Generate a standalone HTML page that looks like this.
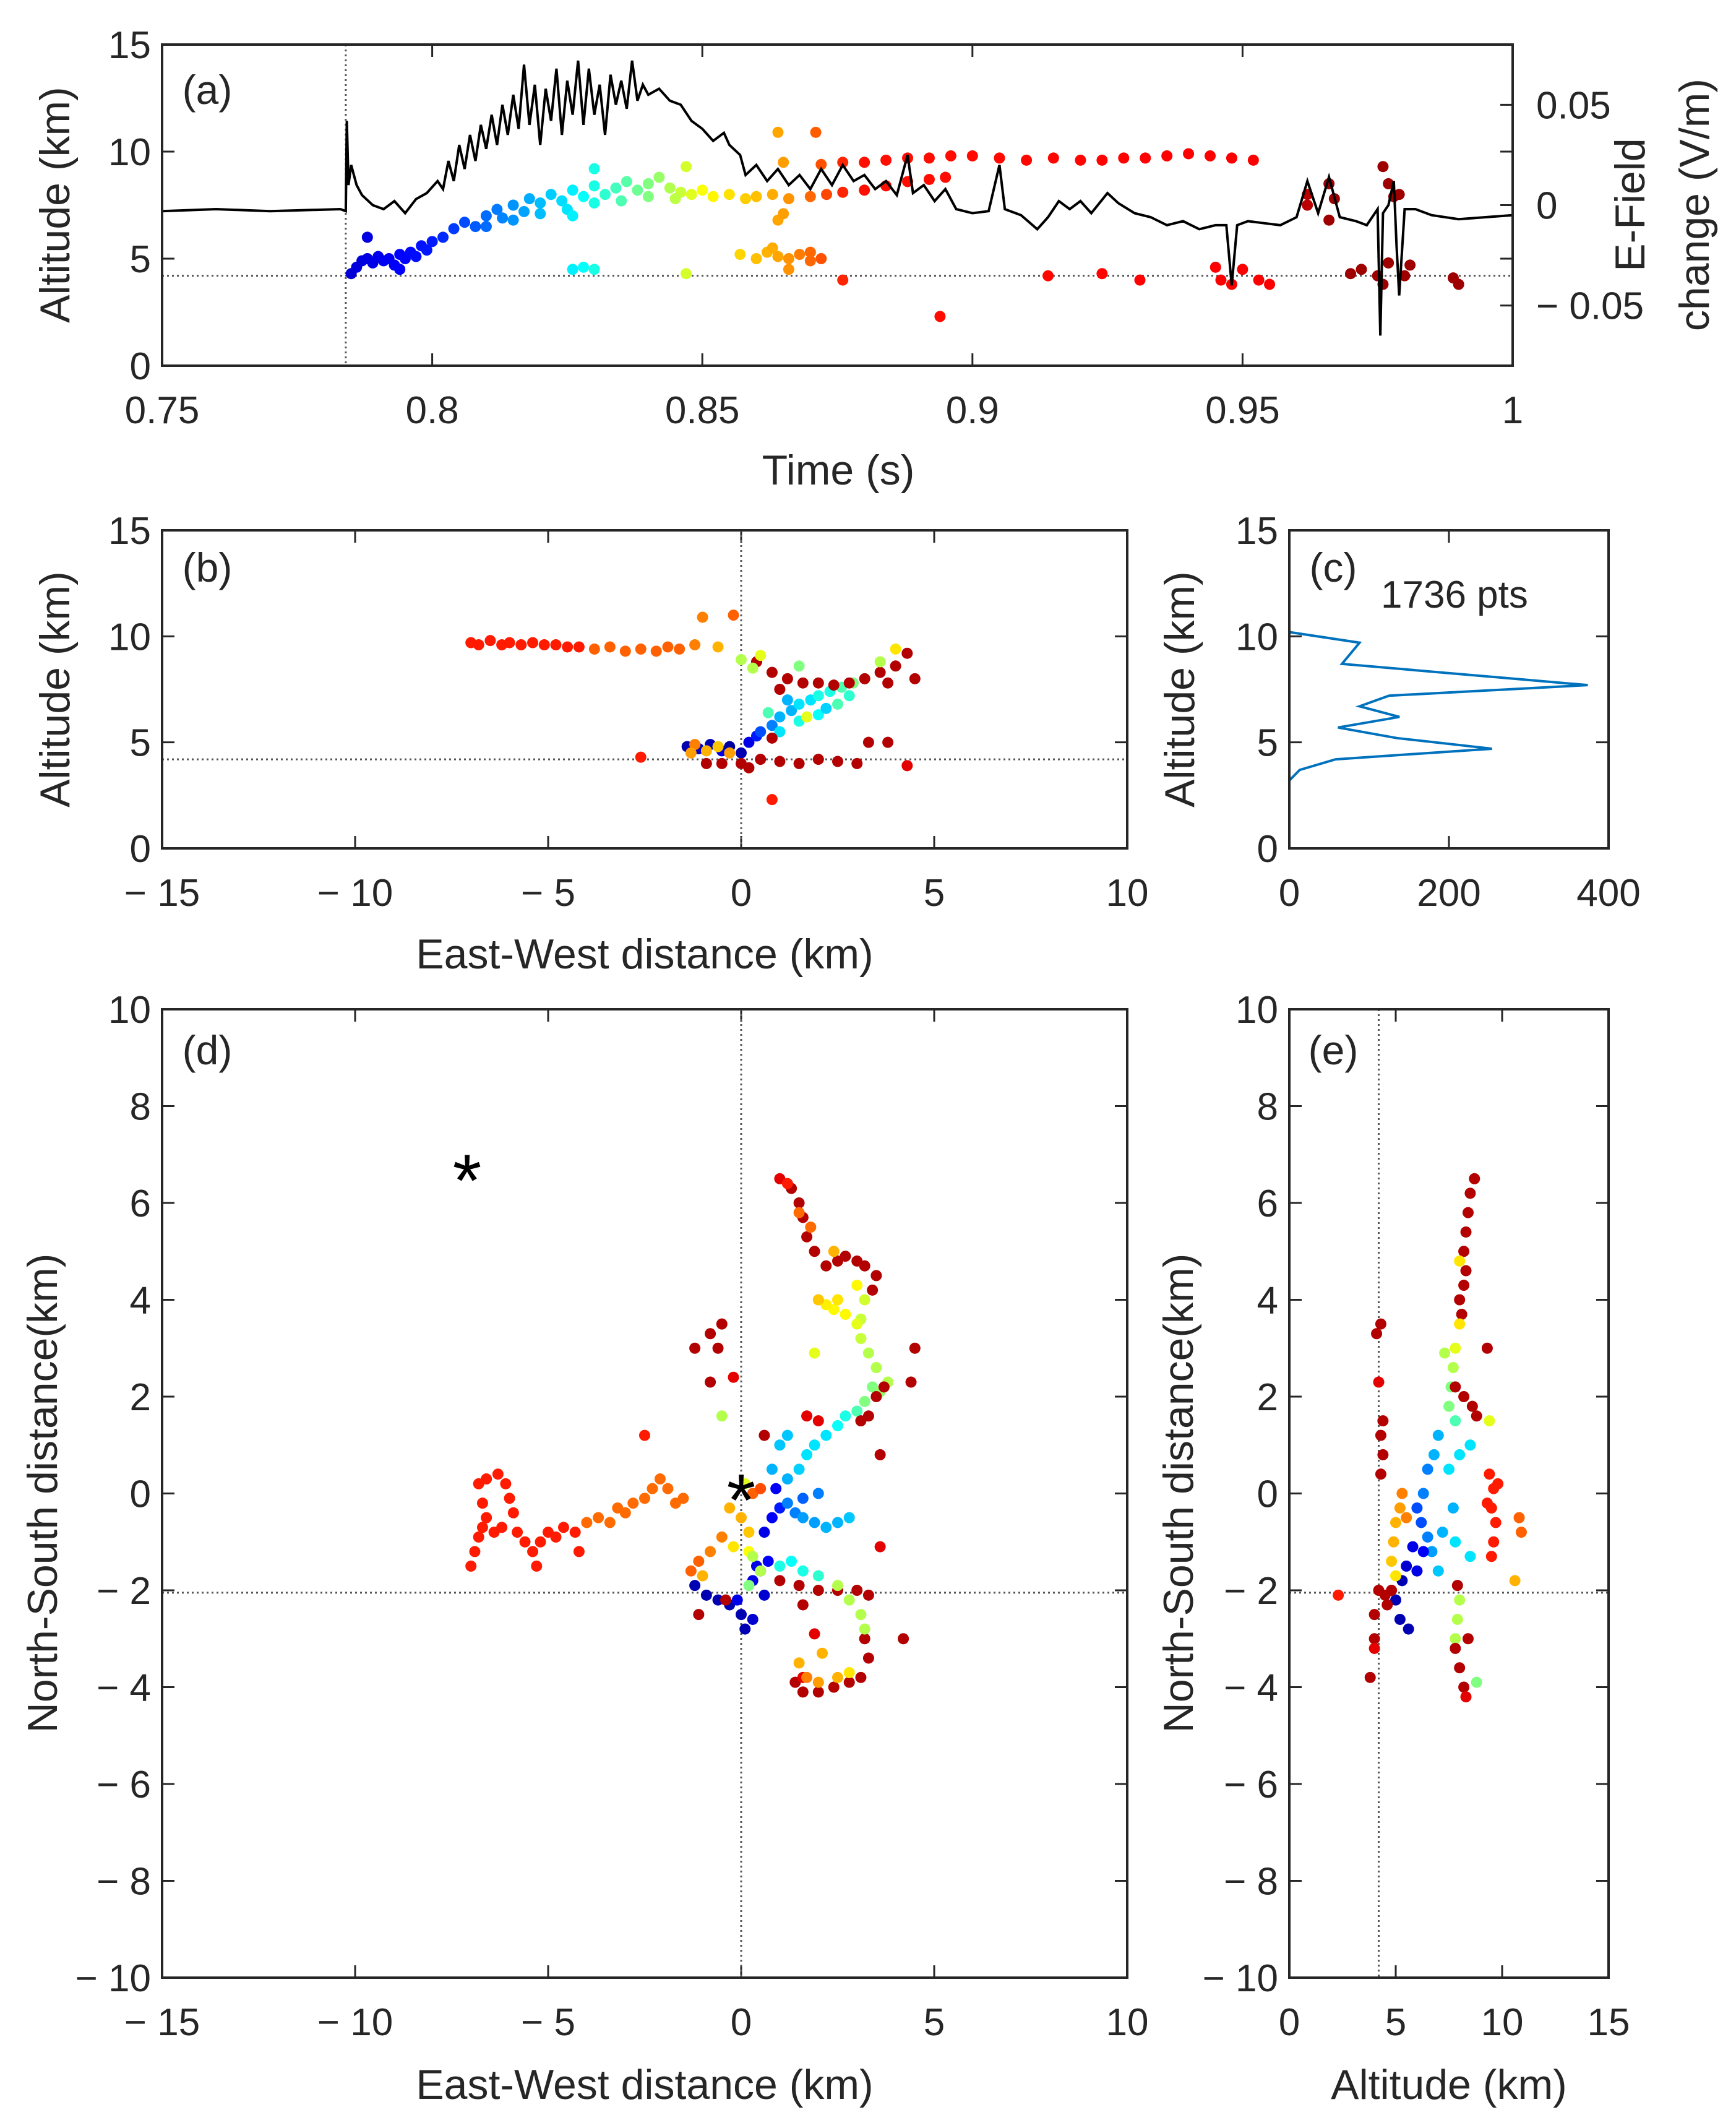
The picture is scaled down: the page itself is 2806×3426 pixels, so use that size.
<!DOCTYPE html>
<html><head><meta charset="utf-8"><style>
html,body{margin:0;padding:0;background:#fff}
svg{display:block}
text{font-family:"Liberation Sans",sans-serif;fill:#262626}
</style></head><body>
<svg id="fig" width="2806" height="3426" viewBox="0 0 2806 3426" xmlns="http://www.w3.org/2000/svg"></svg>
<script>
// ---------- DATA ----------
const efieldTimes=[0.75,0.76,0.77,0.783,0.784,0.7842,0.7845,0.785,0.786,0.787,0.789,0.791,0.793,0.795,0.797,0.799,0.801,0.802,0.803,0.804,0.805,0.806,0.807,0.808,0.809,0.81,0.811,0.812,0.813,0.814,0.815,0.816,0.817,0.818,0.819,0.82,0.821,0.822,0.823,0.824,0.825,0.826,0.827,0.828,0.829,0.83,0.831,0.832,0.833,0.834,0.835,0.836,0.837,0.838,0.839,0.84,0.842,0.844,0.846,0.848,0.85,0.852,0.854,0.855,0.857,0.858,0.86,0.862,0.864,0.866,0.868,0.87,0.872,0.874,0.876,0.878,0.88,0.882,0.884,0.886,0.888,0.889,0.891,0.893,0.895,0.897,0.9,0.903,0.905,0.906,0.909,0.912,0.914,0.916,0.918,0.92,0.922,0.925,0.927,0.93,0.933,0.936,0.939,0.942,0.945,0.947,0.948,0.949,0.951,0.954,0.957,0.96,0.962,0.964,0.966,0.968,0.971,0.973,0.975,0.9755,0.976,0.977,0.978,0.9785,0.979,0.98,0.982,0.985,0.99,0.995,1.0];
const efieldValues=[-0.003,-0.002,-0.003,-0.002,-0.003,0.042,0.01,0.02,0.01,0.005,0.0,-0.002,0.002,-0.004,0.003,0.006,0.012,0.008,0.022,0.012,0.03,0.018,0.035,0.022,0.04,0.028,0.045,0.03,0.05,0.035,0.055,0.038,0.07,0.04,0.06,0.03,0.058,0.042,0.068,0.035,0.062,0.045,0.072,0.04,0.068,0.045,0.06,0.035,0.065,0.05,0.062,0.048,0.072,0.052,0.06,0.055,0.058,0.052,0.05,0.042,0.038,0.032,0.036,0.03,0.025,0.015,0.02,0.012,0.018,0.01,0.015,0.008,0.018,0.01,0.02,0.012,0.015,0.008,0.012,0.005,0.025,0.006,0.01,0.002,0.008,-0.002,-0.004,-0.003,0.02,-0.002,-0.005,-0.012,-0.006,0.002,-0.002,0.002,-0.004,0.006,0.001,-0.004,-0.006,-0.01,-0.008,-0.012,-0.01,-0.01,-0.04,-0.01,-0.008,-0.009,-0.01,-0.006,0.012,-0.004,0.014,-0.006,-0.008,-0.01,-0.002,-0.065,-0.004,0.0,0.012,-0.02,-0.045,-0.002,-0.002,-0.005,-0.007,-0.006,-0.005];
const srcTime=[0.785,0.786,0.787,0.788,0.789,0.790,0.791,0.792,0.793,0.794,0.795,0.796,0.797,0.798,0.799,0.788,0.794,0.800,0.802,0.804,0.806,0.808,0.81,0.812,0.813,0.815,0.817,0.818,0.82,0.822,0.824,0.826,0.828,0.83,0.832,0.834,0.836,0.838,0.84,0.842,0.844,0.846,0.848,0.85,0.852,0.855,0.858,0.86,0.863,0.866,0.87,0.873,0.876,0.88,0.884,0.888,0.892,0.895,0.81,0.815,0.82,0.825,0.83,0.835,0.84,0.845,0.83,0.847,0.826,0.826,0.828,0.830,0.847,0.857,0.86,0.862,0.864,0.866,0.868,0.87,0.872,0.866,0.863,0.870,0.864,0.865,0.876,0.864,0.871,0.865,0.872,0.876,0.88,0.884,0.888,0.892,0.896,0.9,0.905,0.91,0.915,0.92,0.924,0.928,0.932,0.936,0.94,0.944,0.948,0.952,0.894,0.914,0.924,0.931,0.945,0.946,0.948,0.95,0.953,0.955,0.962,0.962,0.966,0.967,0.966,0.976,0.977,0.978,0.979,0.97,0.972,0.975,0.976,0.977,0.98,0.981,0.989,0.99];
const srcAlt=[4.3,4.6,4.9,5.0,4.8,5.1,4.9,5.0,4.7,5.2,5.0,5.3,5.1,5.6,5.4,6.0,4.5,5.8,6.0,6.4,6.7,6.5,7.0,7.3,6.9,7.5,7.2,7.8,7.6,8.0,7.7,8.2,7.9,8.4,8.0,8.3,8.6,8.2,8.5,8.8,8.3,8.1,8.0,8.2,7.9,8.0,7.8,7.9,8.0,7.8,7.9,8.0,8.1,8.2,8.4,8.6,8.7,8.8,6.5,6.8,7.1,7.3,7.6,7.7,7.9,7.8,9.2,9.3,7.0,4.5,4.6,4.5,4.3,5.2,5.0,5.3,5.1,5.0,5.2,4.9,5.0,4.5,5.5,5.3,6.8,7.1,4.0,10.9,10.9,9.5,9.4,9.5,9.5,9.6,9.7,9.7,9.8,9.8,9.7,9.6,9.7,9.6,9.6,9.7,9.7,9.8,9.9,9.8,9.7,9.6,2.3,4.2,4.3,4.0,4.6,4.0,3.8,4.5,4.0,3.8,8.0,7.5,8.5,7.8,6.8,9.3,8.5,7.9,8.0,4.3,4.5,4.2,3.8,4.8,4.2,4.7,4.1,3.8];
// time -> colormap breakpoints
const colorTimes=[0.784,0.80,0.825,0.84,0.85,0.865,0.878,0.955,0.965];
const colorLevels=[0.08,0.15,0.35,0.5,0.62,0.72,0.86,0.88,0.97];
const bEW=[-7,-6.8,-6.5,-6.2,-6,-5.7,-5.4,-5.1,-4.8,-4.5,-4.2,-3.8,-3.4,-3,-2.6,-2.2,-1.9,-1.6,-1,-0.2,-1.2,-0.6,-1.4,-1.1,-0.8,-0.5,-0.3,0,0.2,0.4,-1.2,-0.9,-0.6,-0.3,-1.3,0.5,0.8,1.0,1.3,1.5,1.8,2.0,2.3,2.6,2.9,3.2,1.0,1.5,2.0,2.5,1.2,2.2,2.8,0.7,1.7,0.4,0.8,1.2,1.6,2.0,2.4,2.8,3.2,3.6,4.0,4.3,4.5,1.0,3.8,0,0.5,0.3,4.0,3.6,1.5,0,0.5,1.0,1.5,2.0,2.5,3.0,0.2,-0.5,3.3,3.8,0.8,4.3,-2.6,0.8,-0.9];
const bAlt=[9.7,9.6,9.8,9.6,9.7,9.6,9.7,9.6,9.6,9.5,9.5,9.4,9.5,9.3,9.4,9.3,9.5,9.4,10.9,11,9.6,9.5,4.8,4.7,4.9,4.6,4.8,4.5,5.0,5.3,4.9,4.6,4.8,4.5,4.5,5.5,5.8,6.2,6.5,6.8,7.0,7.2,7.4,7.6,7.8,8.0,5.5,6.0,6.3,6.8,7.0,6.6,7.2,6.4,6.2,8.8,8.3,8.0,7.8,7.8,7.7,7.8,8.0,8.3,8.6,9.2,8.0,7.5,7.8,8.9,9.1,8.5,9.4,8.8,8.6,4.0,4.2,4.1,4.0,4.2,4.1,4.0,3.8,4.0,5.0,5.0,5.2,3.9,4.3,2.3,4.0];
const bC=[0.85,0.85,0.85,0.85,0.85,0.85,0.85,0.85,0.85,0.85,0.85,0.78,0.78,0.78,0.78,0.78,0.78,0.78,0.75,0.78,0.75,0.7,0.05,0.07,0.05,0.1,0.03,0.05,0.1,0.15,0.75,0.7,0.68,0.72,0.72,0.2,0.25,0.3,0.3,0.35,0.35,0.4,0.4,0.45,0.5,0.5,0.35,0.4,0.38,0.45,0.3,0.33,0.42,0.45,0.6,0.95,0.95,0.95,0.95,0.95,0.95,0.95,0.95,0.95,0.95,0.95,0.95,0.95,0.95,0.55,0.6,0.55,0.65,0.55,0.5,0.95,0.95,0.95,0.95,0.95,0.95,0.95,0.95,0.95,0.95,0.95,0.95,0.9,0.85,0.85,0.95];
const histCount=[0,0,13,58,254,135,61,138,88,125,374,66,88,0,0];
const histAlt=[2.2,3.2,3.7,4.2,4.7,5.2,5.7,6.2,6.7,7.2,7.7,8.7,9.7,10.2,10.7];
const dEW=[-7,-6.9,-6.8,-6.7,-6.6,-6.7,-6.8,-6.6,-6.3,-6.1,-6,-5.9,-6.2,-6.4,-5.8,-5.6,-5.4,-5.3,-5.2,-5.0,-4.8,-4.6,-4.3,-4.2,-4,-3.7,-3.4,-3.2,-3,-2.8,-2.5,-2.3,-2.1,-1.9,-1.7,-1.5,-2.5,-0.3,0,0.2,-0.5,-0.8,-1.1,-1.3,-1.0,0.3,0.5,0.1,-0.2,0.2,-1.2,-0.9,-0.6,-0.3,0,0.1,0.3,-0.1,0.3,0.5,0.7,0.6,0.6,0.8,1.0,0.9,0.4,1.2,1.4,1.6,1.9,2.2,2.5,2.8,1.2,1.5,1.7,1.9,2.2,1.0,1.2,0.8,2.5,2.7,1.6,2.0,3.0,3.2,3.4,3.6,3.8,3.5,3.3,3.1,3.1,3.2,3.0,2.7,2.4,2.2,2.0,3.1,3.3,3.5,3.7,3.4,3.5,3.2,3.0,2.7,2.5,2.2,1.9,1.7,1.6,1.5,1.3,1.0,1.2,4.5,4.4,2,1.5,1.0,2.5,3.0,3.3,3.2,3.3,3.1,2.8,2.4,2.0,1.6,1.4,1.6,-1.2,-0.8,-0.5,-0.6,-0.8,-0.2,1.7,0.6,2.0,3.6,3.6,-1.1,-0.4,1.9,4.2,1.6,-0.5,1.7,2.0,2.5,2.8,1.5,2.1,2.4,1.8,1.5,2.0,2.5,3.0,1.9,2.5,2.8,3.1,3.2,0.3,0.5,0.2,1.0,1.3,1.6,2.0];
const dNS=[-1.5,-1.2,-0.9,-0.7,-0.5,-0.2,0.2,0.3,0.4,0.2,-0.1,-0.4,-0.7,-0.8,-0.8,-1.0,-1.2,-1.5,-1.0,-0.8,-0.9,-0.7,-0.8,-1.2,-0.6,-0.5,-0.6,-0.3,-0.4,-0.2,-0.1,0.1,0.3,0.1,-0.2,-0.1,1.2,-0.3,-0.5,-0.8,-0.9,-1.2,-1.4,-1.6,-1.7,0,0.1,0.2,-1.1,-1.2,-1.9,-2.1,-2.2,-2.3,-2.5,-2.8,-2.6,-2.2,-1.8,-1.6,-1.4,-2.1,-0.8,-0.5,-0.3,0.1,-1.5,-0.2,-0.4,-0.5,-0.6,-0.7,-0.6,-0.5,0.3,0.5,0.8,1.0,1.2,1.0,1.2,0.5,1.4,1.6,-0.1,0,1.7,1.9,2.2,2.1,2.3,2.6,2.9,3.2,3.6,4.0,3.5,3.7,3.8,3.9,4.0,1.5,1.6,2.0,2.2,4.2,4.5,4.7,4.8,4.9,4.8,4.7,5.0,5.3,5.7,6.0,6.3,6.5,6.4,3.0,2.3,-2,-1.9,-1.8,-2.0,-2.0,-2.1,-3.0,-3.4,-3.8,-3.9,-4.0,-4.1,-4.1,-3.9,-3.8,3.0,3.3,3.5,3.0,2.3,2.4,1.6,1.2,1.5,0.8,-1.1,-2.5,-2.2,-2.9,-3.0,-2.3,1.6,-3.8,-3.9,-3.8,-3.7,-3.5,-3.3,5.0,5.5,5.8,4.0,4.0,4.3,2.9,-1.9,-2.2,-2.5,-2.8,-1.3,-1.6,-1.9,-1.5,-1.4,-1.6,-1.7];
const dC=[0.85,0.85,0.85,0.85,0.85,0.85,0.85,0.85,0.85,0.85,0.85,0.85,0.85,0.85,0.85,0.85,0.85,0.85,0.85,0.85,0.85,0.85,0.85,0.85,0.77,0.77,0.77,0.77,0.77,0.77,0.77,0.77,0.77,0.77,0.77,0.77,0.85,0.7,0.7,0.68,0.75,0.75,0.78,0.78,0.7,0.78,0.8,0.6,0.65,0.62,0.05,0.05,0.05,0.05,0.05,0.05,0.08,0.1,0.1,0.1,0.12,0.08,0.1,0.12,0.15,0.12,0.1,0.25,0.25,0.28,0.28,0.3,0.3,0.32,0.3,0.33,0.35,0.35,0.35,0.32,0.32,0.3,0.38,0.4,0.22,0.25,0.45,0.5,0.5,0.52,0.55,0.55,0.55,0.57,0.57,0.58,0.6,0.63,0.63,0.64,0.65,0.95,0.95,0.95,0.95,0.95,0.95,0.95,0.95,0.95,0.95,0.95,0.95,0.95,0.95,0.95,0.95,0.9,0.85,0.95,0.95,0.95,0.95,0.95,0.95,0.95,0.95,0.95,0.95,0.95,0.95,0.95,0.95,0.95,0.95,0.9,0.95,0.95,0.95,0.95,0.95,0.9,0.9,0.95,0.9,0.95,0.9,0.95,0.95,0.9,0.95,0.95,0.55,0.75,0.72,0.7,0.65,0.7,0.7,0.7,0.77,0.77,0.68,0.65,0.63,0.6,0.55,0.55,0.55,0.55,0.55,0.55,0.5,0.4,0.38,0.4,0.42];
const eAlt=[8.7,8.5,8.4,8.3,8.2,8.3,8.2,8.0,8.1,8.0,7.8,7.7,7.6,7.5,7.8,8.0,7.3,9.4,7.8,8.2,8.6,8.8,9.3,7.0,6.8,6.5,6.3,6.0,6.2,6.5,7.5,8.0,8.5,7.7,7.2,6.7,7.0,7.8,8.5,5.8,5.5,5.3,5.0,5.2,5.6,6.0,6.3,5.3,5.2,5.0,4.9,4.8,5.0,5.5,9.4,9.6,9.5,9.7,9.6,9.5,9.3,9.8,10.8,10.9,10.6,8.0,7.9,7.8,8.8,7.8,8.0,8.2,8.3,7.9,8.4,4.3,4.1,4.2,4.4,4.3,4.4,4.3,4.2,4.5,4.8,4.0,4.0,4.0,3.8,2.3,4.6];
const eNS=[6.5,6.2,5.8,5.4,5.0,4.6,4.3,4.0,3.7,3.5,3.0,2.6,2.2,1.8,1.5,4.8,2.9,1.5,2.2,2.0,1.8,1.6,3.0,1.2,0.8,0.5,0,-0.3,-0.6,-0.9,0.5,0.8,1.0,-0.3,-0.8,-1.2,-1.6,-1.0,-1.3,-1.1,-1.5,-1.8,-2.2,-2.6,-2.8,-1.6,-1.2,0,-0.3,-0.6,-1.0,-1.4,-1.7,-0.5,0.4,0.1,-0.3,-0.6,-1.0,-1.3,-0.2,0.2,-0.5,-0.8,-1.8,-2.2,-2.6,-3.0,-3.9,-3.2,-3.6,-4.0,-4.2,-1.9,-3.0,3.5,3.3,2.3,1.5,1.2,0.8,0.4,-2.0,-2.1,-2.0,-2.5,-3.0,-3.2,-3.8,-2.1,-2.3];
const eC=[0.95,0.95,0.95,0.95,0.95,0.95,0.95,0.95,0.95,0.65,0.6,0.55,0.5,0.5,0.45,0.65,0.55,0.6,0.95,0.95,0.95,0.95,0.95,0.3,0.3,0.25,0.25,0.2,0.2,0.25,0.35,0.35,0.35,0.3,0.3,0.28,0.32,0.35,0.35,0.1,0.08,0.05,0.05,0.05,0.05,0.1,0.12,0.75,0.72,0.7,0.7,0.68,0.65,0.75,0.85,0.85,0.85,0.85,0.85,0.85,0.85,0.85,0.78,0.78,0.7,0.55,0.55,0.55,0.5,0.95,0.95,0.95,0.9,0.95,0.95,0.95,0.95,0.9,0.95,0.95,0.95,0.95,0.95,0.95,0.95,0.95,0.95,0.9,0.95,0.85,0.95];
const starEW=[-7.1,0];
const starNS=[6.6,0];

// ---------- HELPERS ----------
const NS='http://www.w3.org/2000/svg';
const svg=document.getElementById('fig');
function el(tag,attrs,parent){const e=document.createElementNS(NS,tag);for(const k in attrs)e.setAttribute(k,attrs[k]);(parent||svg).appendChild(e);return e;}
function jet(v){v=Math.max(0,Math.min(1,v));const r=Math.max(0,Math.min(1,1.5-Math.abs(4*v-3))),g=Math.max(0,Math.min(1,1.5-Math.abs(4*v-2))),b=Math.max(0,Math.min(1,1.5-Math.abs(4*v-1)));return `rgb(${Math.round(r*255)},${Math.round(g*255)},${Math.round(b*255)})`;}
function timeColor(t){if(t<=colorTimes[0])return colorLevels[0];for(let i=1;i<colorTimes.length;i++){if(t<=colorTimes[i]){const f=(t-colorTimes[i-1])/(colorTimes[i]-colorTimes[i-1]);return colorLevels[i-1]+f*(colorLevels[i]-colorLevels[i-1]);}}return colorLevels[colorLevels.length-1];}
function lin(d0,d1,r0,r1){return v=>r0+(v-d0)/(d1-d0)*(r1-r0);}
function fmt(v){return v<0?'\u2212 '+Math.abs(v):String(v);}
const FS=62;
function axes(name,L,R,T,B,xd,yd,xt,yt){
  const g=el('g',{});
  
  
  const x=lin(xd[0],xd[1],L,R),y=lin(yd[0],yd[1],B,T);
  xt.forEach(v=>{const px=x(v);
    const t1=el('line',{x1:px,x2:px,y1:B,y2:B-20,stroke:'#262626','stroke-width':3},g);
    el('line',{x1:px,x2:px,y1:T,y2:T+20,stroke:'#262626','stroke-width':3},g);
    const t=el('text',{x:px,y:B+93,'font-size':FS,'text-anchor':'middle'},g);t.textContent=fmt(v);
  });
  yt.forEach(v=>{const py=y(v);
    const t1=el('line',{x1:L,x2:L+20,y1:py,y2:py,stroke:'#262626','stroke-width':3},g);
    el('line',{x1:R,x2:R-20,y1:py,y2:py,stroke:'#262626','stroke-width':3},g);
    const t=el('text',{x:L-18,y:py+22,'font-size':FS,'text-anchor':'end'},g);t.textContent=fmt(v);
  });
  return {x,y,g};
}
function box(L,R,T,B){const b=el('rect',{x:L,y:T,width:R-L,height:B-T,fill:'none',stroke:'#262626','stroke-width':4});}
function dotted(x1,y1,x2,y2){const l=el('line',{x1,y1,x2,y2,stroke:'#555','stroke-width':3,'stroke-dasharray':'3,5'});}
function label(txt,x,y,name,rot,size){const t=el('text',{x,y,'font-size':size||68,'text-anchor':'middle',transform:rot?`rotate(-90 ${x} ${y})`:''});t.textContent=txt;return t;}
function dot(px,py,c,name){const d=el('circle',{cx:px,cy:py,r:9,fill:jet(c)});}
function clip(id,L,R,T,B){const cp=el('clipPath',{id});el('rect',{x:L,y:T,width:R-L,height:B-T},cp);}

// ---------- PANEL A ----------
(function(){
 const L=262,R=2445,T=72,B=591;
 const a=axes('panel-a',L,R,T,B,[0.75,1],[0,15],[0.75,0.8,0.85,0.9,0.95,1],[0,5,10,15]);
 clip('ca',L,R,T,B);
 dotted(a.x(0.784),T,a.x(0.784),B);dotted(L,a.y(4.2),R,a.y(4.2));
 const ye=lin(-0.08,0.08,B,T);
 [-0.05,0,0.05].forEach(v=>{el('line',{x1:R,x2:R-20,y1:ye(v),y2:ye(v),stroke:'#262626','stroke-width':3});
  const t=el('text',{x:R+38,y:ye(v)+22,'font-size':FS},svg);t.textContent=v<0?'\u2212 0.05':String(v);});
 srcTime.forEach((t,i)=>dot(a.x(t),a.y(srcAlt[i]),timeColor(t),'source-point'));
 const p=efieldTimes.map((t,i)=>`${a.x(t).toFixed(1)},${ye(efieldValues[i]).toFixed(1)}`).join(' ');
 const pl=el('polyline',{points:p,fill:'none',stroke:'#000','stroke-width':4,'clip-path':'url(#ca)'});
 
 box(L,R,T,B);
 label('(a)',335,168,'panel-a-label',false,66);
 label('Time (s)',1355,783,'x-axis-title');
 label('Altitude (km)',112,331,'y-axis-title',true);
 label('E-Field',2658,331,'right-axis-title',true);
 label('change (V/m)',2762,331,'right-axis-title-2',true);
})();

// ---------- PANEL B ----------
(function(){
 const L=262,R=1822,T=857,B=1371;
 const a=axes('panel-b',L,R,T,B,[-15,10],[0,15],[-15,-10,-5,0,5,10],[0,5,10,15]);
 dotted(a.x(0),T,a.x(0),B);dotted(L,a.y(4.2),R,a.y(4.2));
 bEW.forEach((v,i)=>dot(a.x(v),a.y(bAlt[i]),bC[i],'source-point'));
 box(L,R,T,B);
 label('(b)',335,940,'panel-b-label',false,66);
 label('East-West distance (km)',1042,1565,'x-axis-title');
 label('Altitude (km)',112,1114,'y-axis-title',true);
})();

// ---------- PANEL C ----------
(function(){
 const L=2084,R=2600,T=857,B=1371;
 const a=axes('panel-c',L,R,T,B,[0,400],[0,15],[0,200,400],[0,5,10,15]);
 const p=histCount.map((c,i)=>`${a.x(c)},${a.y(histAlt[i])}`).join(' ');
 const pl=el('polyline',{points:p,fill:'none',stroke:'#0072BD','stroke-width':4});
 
 box(L,R,T,B);
 label('(c)',2155,940,'panel-c-label',false,66);
 const t=el('text',{x:2232,y:982,'font-size':62});t.textContent='1736 pts';
 label('Altitude (km)',1930,1114,'y-axis-title',true);
})();

// ---------- PANEL D ----------
(function(){
 const L=262,R=1822,T=1631,B=3196;
 const a=axes('panel-d',L,R,T,B,[-15,10],[-10,10],[-15,-10,-5,0,5,10],[-10,-8,-6,-4,-2,0,2,4,6,8,10]);
 dotted(a.x(0),T,a.x(0),B);dotted(L,a.y(-2.05),R,a.y(-2.05));
 dEW.forEach((v,i)=>dot(a.x(v),a.y(dNS[i]),dC[i],'source-point'));
 starEW.forEach((v,i)=>{const s=el('text',{x:a.x(v),y:a.y(starNS[i])+52,'font-size':120,'text-anchor':'middle',style:'fill:#000'});s.textContent='*';});
 box(L,R,T,B);
 label('(d)',335,1720,'panel-d-label',false,66);
 label('East-West distance (km)',1042,3392,'x-axis-title');
 label('North-South distance(km)',92,2413,'y-axis-title',true);
})();

// ---------- PANEL E ----------
(function(){
 const L=2084,R=2600,T=1631,B=3196;
 const a=axes('panel-e',L,R,T,B,[0,15],[-10,10],[0,5,10,15],[-10,-8,-6,-4,-2,0,2,4,6,8,10]);
 dotted(a.x(4.2),T,a.x(4.2),B);dotted(L,a.y(-2.05),R,a.y(-2.05));
 eAlt.forEach((v,i)=>dot(a.x(v),a.y(eNS[i]),eC[i],'source-point'));
 box(L,R,T,B);
 label('(e)',2155,1720,'panel-e-label',false,66);
 label('Altitude (km)',2342,3392,'x-axis-title');
 label('North-South distance(km)',1928,2413,'y-axis-title',true);
})();
</script>
</body></html>
